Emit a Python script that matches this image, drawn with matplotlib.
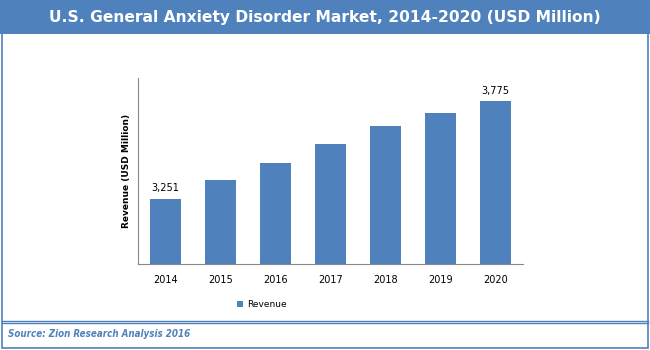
import matplotlib.pyplot as plt
from matplotlib.patches import Rectangle
from matplotlib.lines import Line2D

# datos
years = ['2014', '2015', '2016', '2017', '2018', '2019', '2020']
revenue = [3251, 3351, 3443, 3545, 3642, 3712, 3775]
label_years = ['2014', '2020']

azul = '#4F81BD'

fig = plt.figure(figsize=(6.5, 3.5), dpi=100)

# barra del titulo
fig.patches.append(Rectangle((0, 0.903), 1, 0.097, transform=fig.transFigure,
                             facecolor=azul, edgecolor='none', zorder=0))
fig.text(0.5, 0.951, 'U.S. General Anxiety Disorder Market, 2014-2020 (USD Million)',
         ha='center', va='center', color='white', fontsize=11.2, fontweight='bold')

# marco exterior
fig.patches.append(Rectangle((0.003, 0.006), 0.994, 0.9, transform=fig.transFigure,
                             facecolor='none', edgecolor=azul, linewidth=1.2, zorder=1))
fig.lines.append(Line2D([0.003, 0.997], [0.083, 0.083], transform=fig.transFigure,
                        color=azul, linewidth=1))
fig.lines.append(Line2D([0.003, 0.997], [0.077, 0.077], transform=fig.transFigure,
                        color=azul, linewidth=1))
fig.text(0.013, 0.045, 'Source: Zion Research Analysis 2016', ha='left', va='center',
         color=azul, fontsize=7, fontweight='bold', fontstyle='italic',
         fontstretch='condensed')

ax = fig.add_axes([0.2123, 0.2457, 0.5923, 0.5314])
x = range(len(years))
bars = ax.bar(x, revenue, width=0.58, color=azul)
ax.set_xlim(-0.5, len(years) - 0.5)
ax.set_ylim(2900, 3900)
ax.set_xticks(list(x))
ax.set_xticklabels(years, fontsize=7)
ax.set_yticks([])
ax.tick_params(axis='x', length=0, pad=8)
for s in ['top', 'right']:
    ax.spines[s].set_visible(False)
for s in ['left', 'bottom']:
    ax.spines[s].set_color('#888888')

for b, yr, v in zip(bars, years, revenue):
    if yr in label_years:
        ax.text(b.get_x() + b.get_width() / 2, v + 30, f'{v:,}',
                ha='center', va='bottom', fontsize=7)

ax.set_ylabel('Revenue (USD Million)', fontsize=6.5, fontweight='bold', labelpad=5)

ax.legend([bars[0]], ['Revenue'], loc='center', bbox_to_anchor=(0.403, 0.129),
          bbox_transform=fig.transFigure, frameon=False, fontsize=6.5,
          handlelength=0.7, handleheight=0.7, handletextpad=0.4)

fig.savefig('out.png', dpi=100)
